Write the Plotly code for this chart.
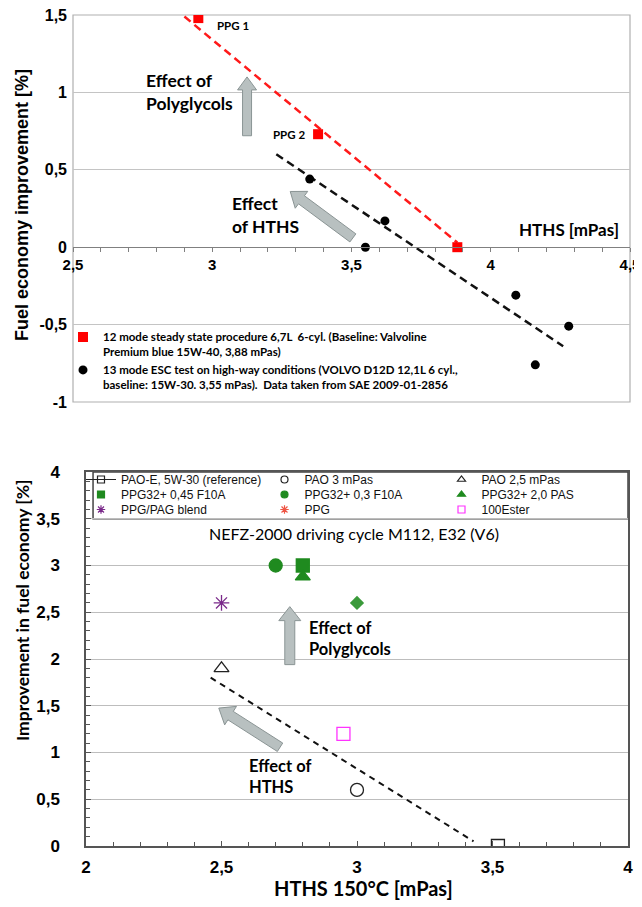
import math
import plotly.graph_objects as go

W, H = 642, 907
OFF = 8  # page body margin of the photographed page

# ---------------- data: top chart ----------------
ppg_name = "12 mode steady state procedure 6,7L  6-cyl. (Baseline: Valvoline<br>Premium blue 15W-40, 3,88 mPas)"
ppg_x = [2.95, 3.38, 3.88]
ppg_y = [1.48, 0.73, 0.0]
esc_name = "13 mode ESC test on high-way conditions (VOLVO D12D 12,1L 6 cyl.,<br>baseline: 15W-30. 3,55 mPas).  Data taken from SAE 2009-01-2856"
esc_x = [3.35, 3.55, 3.62, 4.09, 4.16, 4.28]
esc_y = [0.44, 0.0, 0.17, -0.31, -0.76, -0.51]
ppg_trend_x = [2.90, 3.88]
ppg_trend_y = [1.49, 0.03]
esc_trend_x = [3.23, 4.26]
esc_trend_y = [0.60, -0.64]
top_ytick_vals = [-1, -0.5, 0, 0.5, 1, 1.5]
top_ytick_text = ["-1", "-0,5", "0", "0,5", "1", "1,5"]
top_xtick_vals = [2.5, 3, 3.5, 4, 4.5]
top_xtick_text = ["2,5", "3", "3,5", "4", "4,5"]

# ---------------- data: bottom chart ----------------
b_names = ["PAO-E, 5W-30 (reference)", "PAO 3 mPas", "PAO 2,5 mPas",
           "PPG32+ 0,45 F10A", "PPG32+ 0,3 F10A", "PPG32+ 2,0 PAS",
           "PPG/PAG blend", "PPG", "100Ester"]
b_x = [[3.52], [3.0], [2.5], [2.8], [2.7], [2.8], [2.5], [], [2.95]]
b_y = [[0.0], [0.6], [1.9], [3.0], [3.0], [2.88], [2.6], [], [1.2]]
b_symbols = ["square-open", "circle-open", "triangle-up-open", "square", "circle",
             "triangle-up", "asterisk-open", "asterisk-open", "square-open"]
b_colors = ["#222222", "#222222", "#222222", "#1f8a1f", "#1f8a1f", "#1f8a1f",
            "#7a2a8a", "#ee5544", "#ff33ff"]
diamond_x = [3.0]
diamond_y = [2.6]
b_trend_x = [2.46, 3.43]
b_trend_y = [1.80, 0.05]
b_ytick_vals = [0, 0.5, 1, 1.5, 2, 2.5, 3, 3.5, 4]
b_ytick_text = ["0", "0,5", "1", "1,5", "2", "2,5", "3", "3,5", "4"]
b_xtick_vals = [2, 2.5, 3, 3.5, 4]
b_xtick_text = ["2", "2,5", "3", "3,5", "4"]


def px(v):
    return (v - OFF) / W


def py(v):
    return 1 - (v - OFF) / H


# ---------------- layout geometry ----------------
xd1 = [px(73), px(630)]
yd1 = [py(402), py(15)]
xr1 = [2.5, 4.5]
yr1 = [-1, 1.5]
xd2 = [px(86), px(628)]
yd2 = [py(846), py(472)]
xr2 = [2, 4]
yr2 = [0, 4]

sx1 = W * (xd1[1] - xd1[0]) / (xr1[1] - xr1[0])
sy1 = H * (yd1[1] - yd1[0]) / (yr1[1] - yr1[0])
sx2 = W * (xd2[1] - xd2[0]) / (xr2[1] - xr2[0])
sy2 = H * (yd2[1] - yd2[0]) / (yr2[1] - yr2[0])

ARIAL = "Liberation Sans, Arial"
CALIBRI = "Lato, Noto Sans"

# bottom legend grid (text start x, row centre y) in page pixels
leg_col_text_x = [119, 302.5, 479.5]
leg_row_y = [479.5, 494.5, 509.5]

fig = go.Figure()

# top chart traces
fig.add_trace(go.Scatter(x=ppg_trend_x, y=ppg_trend_y, mode="lines", showlegend=False,
                         line=dict(color="#ff1a1a", width=2.5, dash="8px,5px"), xaxis="x", yaxis="y"))
fig.add_trace(go.Scatter(x=esc_trend_x, y=esc_trend_y, mode="lines", showlegend=False,
                         line=dict(color="#111111", width=2.5, dash="8px,5px"), xaxis="x", yaxis="y"))
fig.add_trace(go.Scatter(x=ppg_x, y=ppg_y, mode="markers", name=ppg_name, legend="legend",
                         marker=dict(symbol="square", size=10, color="#ff0000"), xaxis="x", yaxis="y"))
fig.add_trace(go.Scatter(x=esc_x, y=esc_y, mode="markers", name=esc_name, legend="legend",
                         marker=dict(symbol="circle", size=9, color="#000000"), xaxis="x", yaxis="y"))

# bottom chart traces
fig.add_trace(go.Scatter(x=b_trend_x, y=b_trend_y, mode="lines", showlegend=False,
                         line=dict(color="#111111", width=2, dash="6px,5px"), xaxis="x2", yaxis="y2"))
fig.add_trace(go.Scatter(x=diamond_x, y=diamond_y, mode="markers", showlegend=False,
                         marker=dict(symbol="diamond", size=11, color="#3a9a3a"), xaxis="x2", yaxis="y2"))

legend_layouts = {}
for i, nm in enumerate(b_names):
    fig.add_trace(go.Scatter(x=b_x[i], y=b_y[i], mode="markers", showlegend=False,
                             marker=dict(symbol=b_symbols[i], size=13, color=b_colors[i],
                                         line=dict(width=1.3, color=b_colors[i])),
                             xaxis="x2", yaxis="y2"))
    lg = f"legend{i + 2}"
    # legend-only entry with a smaller symbol
    fig.add_trace(go.Scatter(x=[None], y=[None], mode="lines+markers" if i == 0 else "markers",
                             name=nm, legend=lg,
                             line=dict(color="#222222", width=1),
                             marker=dict(symbol=b_symbols[i], size=7, color=b_colors[i],
                                         line=dict(width=1.2, color=b_colors[i])),
                             xaxis="x2", yaxis="y2"))
    legend_layouts[lg] = dict(x=px(leg_col_text_x[i % 3] - 38), y=py(leg_row_y[i // 3]),
                              xanchor="left", yanchor="middle", bgcolor="rgba(0,0,0,0)",
                              itemclick=False, font=dict(family=ARIAL, size=12, color="#111111"))


def arrow_shape(x0, y0, x1, y1, sx, sy, xref, yref, w=4.5, hw=9.5, hl=13):
    dx = (x1 - x0) * sx
    dy = (y1 - y0) * sy
    L = math.hypot(dx, dy)
    ux, uy = dx / L, dy / L
    nx, ny = -uy, ux
    b = L - hl
    pts = [(nx * w, ny * w), (ux * b + nx * w, uy * b + ny * w), (ux * b + nx * hw, uy * b + ny * hw),
           (ux * L, uy * L), (ux * b - nx * hw, uy * b - ny * hw), (ux * b - nx * w, uy * b - ny * w),
           (-nx * w, -ny * w)]
    path = "M " + " L ".join(f"{a:.2f},{c:.2f}" for a, c in pts) + " Z"
    return dict(type="path", path=path, xref=xref, yref=yref, xsizemode="pixel", ysizemode="pixel",
                xanchor=x0, yanchor=y0, fillcolor="#b8c0c0", line=dict(color="#8a9494", width=1),
                layer="above")


shapes = [
    dict(type="rect", xref="x domain", yref="y domain", x0=0, x1=1, y0=0, y1=1,
         line=dict(color="#b0b0b0", width=1.2), layer="below"),
    dict(type="rect", xref="x2 domain", yref="y2", x0=0.013, x1=1, y0=3.5, y1=4,
         line=dict(color="#444444", width=1.5), fillcolor="white", layer="below"),
    arrow_shape(3.125, 0.72, 3.125, 1.10, sx1, sy1, "x", "y"),
    arrow_shape(3.505, 0.06, 3.28, 0.36, sx1, sy1, "x", "y", w=5, hw=10.5, hl=14),
    arrow_shape(2.752, 1.94, 2.752, 2.56, sx2, sy2, "x2", "y2", w=5, hw=11, hl=14),
    arrow_shape(2.716, 1.056, 2.49, 1.475, sx2, sy2, "x2", "y2", w=5, hw=11, hl=14),
]

annotations = [
    dict(text="Fuel economy improvement [%]", x=px(22), y=py(205), xref="paper", yref="paper",
         xanchor="center", yanchor="middle",
         textangle=-90, showarrow=False, font=dict(family=ARIAL, size=18, weight="bold", color="black")),
    dict(text="Improvement in fuel economy [%]", x=px(22), y=py(610), xref="paper", yref="paper",
         xanchor="center", yanchor="middle",
         textangle=-90, showarrow=False, font=dict(family=CALIBRI, size=17.5, weight="bold", color="black")),
    dict(text="HTHS 150°C [mPas]", x=px(363), y=py(888), xref="paper", yref="paper",
         xanchor="center", yanchor="middle",
         showarrow=False, font=dict(family=CALIBRI, size=20, weight="bold", color="black")),
    dict(text="PPG 1", x=3.01, y=1.43, xref="x", yref="y", xanchor="left", showarrow=False,
         font=dict(family=CALIBRI, size=11.5, weight="bold", color="black")),
    dict(text="PPG 2", x=3.34, y=0.725, xref="x", yref="y", xanchor="right", showarrow=False,
         font=dict(family=CALIBRI, size=11.5, weight="bold", color="black")),
    dict(text="Effect of<br>Polyglycols", x=2.755, y=1.0, xref="x", yref="y", xanchor="left", align="left",
         showarrow=False, font=dict(family=CALIBRI, size=17.5, weight="bold", color="black")),
    dict(text="Effect<br>of HTHS", x=3.065, y=0.205, xref="x", yref="y", xanchor="left", align="left",
         showarrow=False, font=dict(family=CALIBRI, size=17.5, weight="bold", color="black")),
    dict(text="HTHS [mPas]", x=4.28, y=0.117, xref="x", yref="y", showarrow=False,
         font=dict(family=CALIBRI, size=17, weight="bold", color="black")),
    dict(text="NEFZ-2000 driving cycle M112, E32 (V6)", x=2.99, y=3.34, xref="x2", yref="y2",
         showarrow=False, font=dict(family=CALIBRI, size=16, color="black")),
    dict(text="Effect of<br>Polyglycols", x=2.815, y=2.215, xref="x2", yref="y2", xanchor="left", align="left",
         showarrow=False, font=dict(family=CALIBRI, size=16.5, weight="bold", color="black")),
    dict(text="Effect of<br>HTHS", x=2.595, y=0.745, xref="x2", yref="y2", xanchor="left", align="left",
         showarrow=False, font=dict(family=CALIBRI, size=16.5, weight="bold", color="black")),
]

top_pos = yd1[0] + (0 - yr1[0]) / (yr1[1] - yr1[0]) * (yd1[1] - yd1[0])

fig.update_layout(
    width=W, height=H, margin=dict(l=0, r=0, t=0, b=0, autoexpand=False),
    paper_bgcolor="white", plot_bgcolor="white",
    separators=", ",
    xaxis=dict(domain=xd1, range=xr1, anchor="free", position=top_pos, showgrid=False, zeroline=False,
               automargin=False, ticklabeloverflow="allow",
               showline=True, linecolor="#808080", linewidth=1.2,
               tickmode="array", tickvals=top_xtick_vals, ticktext=top_xtick_text,
               ticks="outside", ticklen=4, tickcolor="#808080",
               minor=dict(tickmode="linear", tick0=2.5, dtick=0.1, ticks="outside", ticklen=4, tickcolor="#808080"),
               tickfont=dict(family=ARIAL, size=15, weight="bold", color="black")),
    yaxis=dict(domain=yd1, range=yr1, anchor="x", showgrid=True, gridcolor="#c4c4c4", gridwidth=1,
               automargin=False, ticklabeloverflow="allow",
               zeroline=False, showline=False, ticks="", ticklabelstandoff=5,
               tickmode="array", tickvals=top_ytick_vals, ticktext=top_ytick_text,
               tickfont=dict(family=ARIAL, size=16, weight="bold", color="black")),
    xaxis2=dict(domain=xd2, range=xr2, anchor="y2", showgrid=False, zeroline=False,
                automargin=False, ticklabeloverflow="allow",
                showline=True, mirror=True, linecolor="#555555", linewidth=1.5,
                tickmode="array", tickvals=b_xtick_vals, ticktext=b_xtick_text,
                ticks="inside", ticklen=5, tickcolor="#555555",
                minor=dict(tickmode="linear", tick0=2, dtick=0.1, ticks="inside", ticklen=4, tickcolor="#555555"),
                ticklabelstandoff=5,
                tickfont=dict(family=ARIAL, size=17, weight="bold", color="black")),
    yaxis2=dict(domain=yd2, range=yr2, anchor="x2", showgrid=True, gridcolor="#bdbdbd", gridwidth=1,
                automargin=False, ticklabeloverflow="allow",
                zeroline=False, showline=True, mirror=True, linecolor="#555555", linewidth=1.5,
                tickmode="array", tickvals=b_ytick_vals, ticktext=b_ytick_text,
                ticks="inside", ticklen=5, tickcolor="#555555",
                minor=dict(tickmode="linear", tick0=0, dtick=0.1, ticks="inside", ticklen=4, tickcolor="#555555"),
                ticklabelstandoff=21,
                tickfont=dict(family=ARIAL, size=17, weight="bold", color="black")),
    legend=dict(x=px(63), y=py(323), xanchor="left", yanchor="top", bgcolor="rgba(0,0,0,0)",
                valign="top", tracegroupgap=1, itemclick=False,
                font=dict(family=CALIBRI, size=11.5, weight="bold", color="black")),
    shapes=shapes,
    annotations=annotations,
)
fig.update_layout(**legend_layouts)

fig.write_html("out.html")
